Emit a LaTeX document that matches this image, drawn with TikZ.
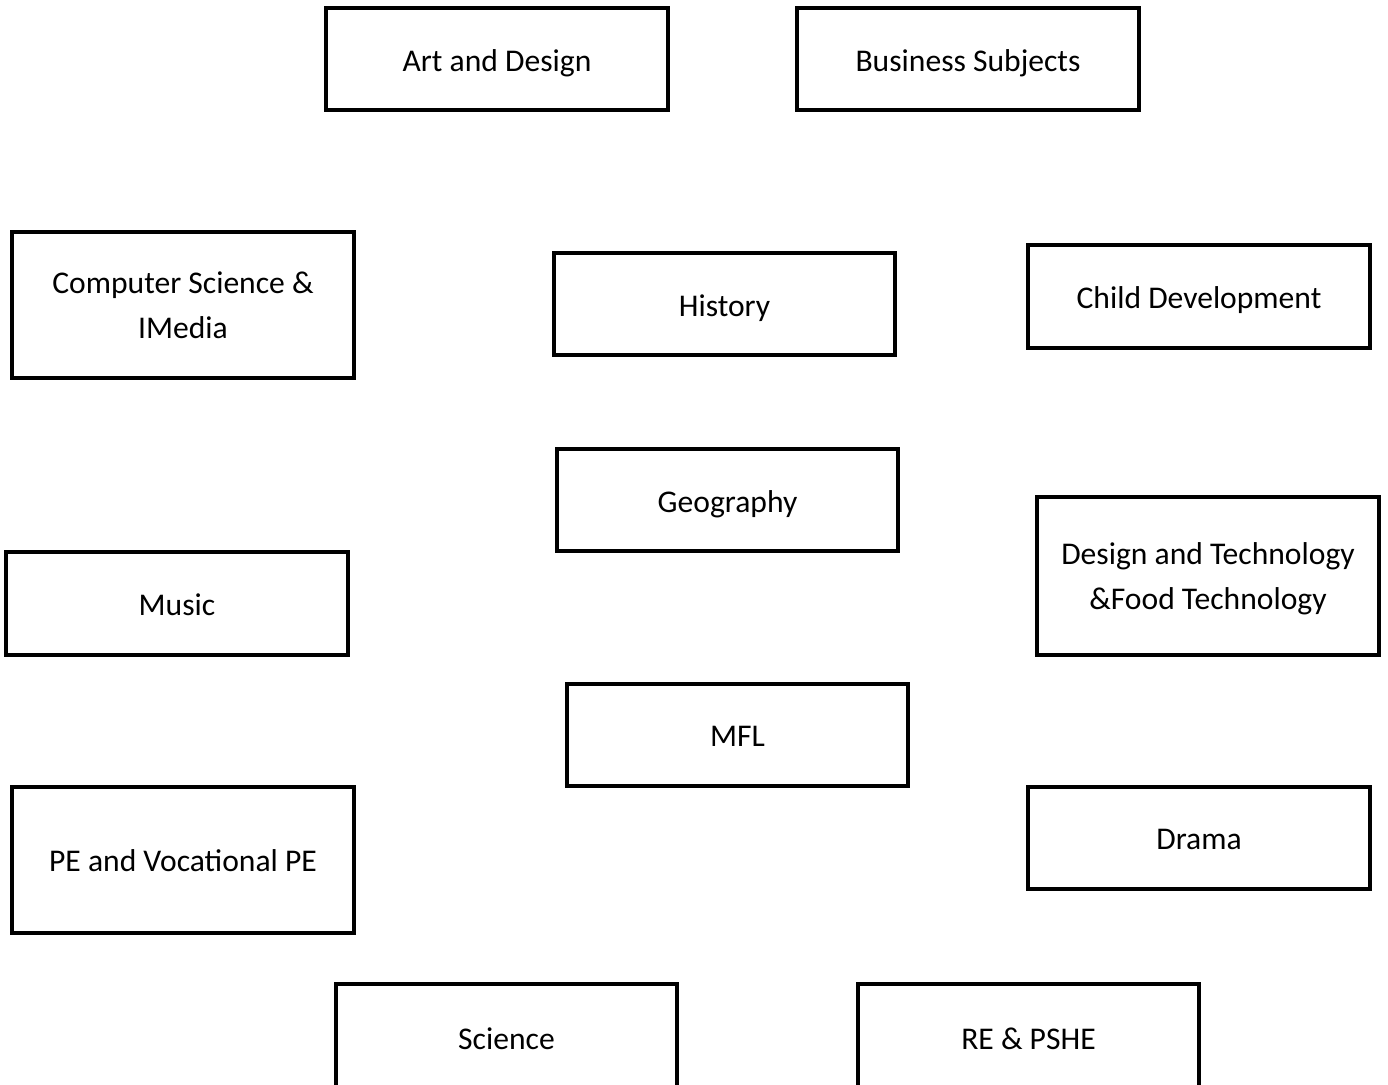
\documentclass[tikz,border=0pt]{standalone}
\usepackage{fontspec}
\setmainfont{Carlito}
\begin{document}
\begin{tikzpicture}[x=0.5pt,y=-0.5pt,
  subj/.style={draw=black, line width=2.2pt, fill=white, align=center, inner sep=0pt,
    font=\fontsize{15.8}{22.5}\selectfont, text depth=0pt},
  two/.style={text depth=-1.5pt},
  bw/.style={minimum width=171pt},
  h1/.style={minimum height=51pt},
  h2/.style={minimum height=73pt},
  h3/.style={minimum height=79pt}]
\useasboundingbox (0,0) rectangle (1388,1085);
\node[subj,bw,h1] (art) at (497,59) {\raisebox{-1.5pt}{Art and Design}};
\node[subj,bw,h1] (bus) at (968,59) {\raisebox{-1.5pt}{Business Subjects}};
\node[subj,two,bw,h2] (cs) at (183,305) {Computer Science \&\\IMedia};
\node[subj,minimum width=170.5pt,h1] (hist) at (724.5,304) {\raisebox{-1.5pt}{History}};
\node[subj,bw,minimum height=51.5pt] (child) at (1199,296.5) {\raisebox{-1.5pt}{Child Development}};
\node[subj,minimum width=170.5pt,h1] (geo) at (727.5,500) {\raisebox{-1.5pt}{Geography}};
\node[subj,two,bw,h3] (dt) at (1208,576) {Design and Technology\\\&Food Technology};
\node[subj,bw,minimum height=51.5pt] (music) at (177,603.5) {\raisebox{-1.5pt}{Music}};
\node[subj,minimum width=170.5pt,h1] (mfl) at (737.5,735) {\raisebox{-1.5pt}{MFL}};
\node[subj,bw,h1] (drama) at (1199,838) {\raisebox{-1pt}{Drama}};
\node[subj,bw,h2] (pe) at (183,860) {\raisebox{-1pt}{PE and Vocational PE}};
\node[subj,minimum width=170.5pt,minimum height=56pt] (sci) at (506.5,1040) {\raisebox{1pt}{Science}};
\node[subj,minimum width=170.5pt,minimum height=56pt] (re) at (1028.5,1040) {\raisebox{1pt}{RE \& PSHE}};
\end{tikzpicture}
\end{document}
